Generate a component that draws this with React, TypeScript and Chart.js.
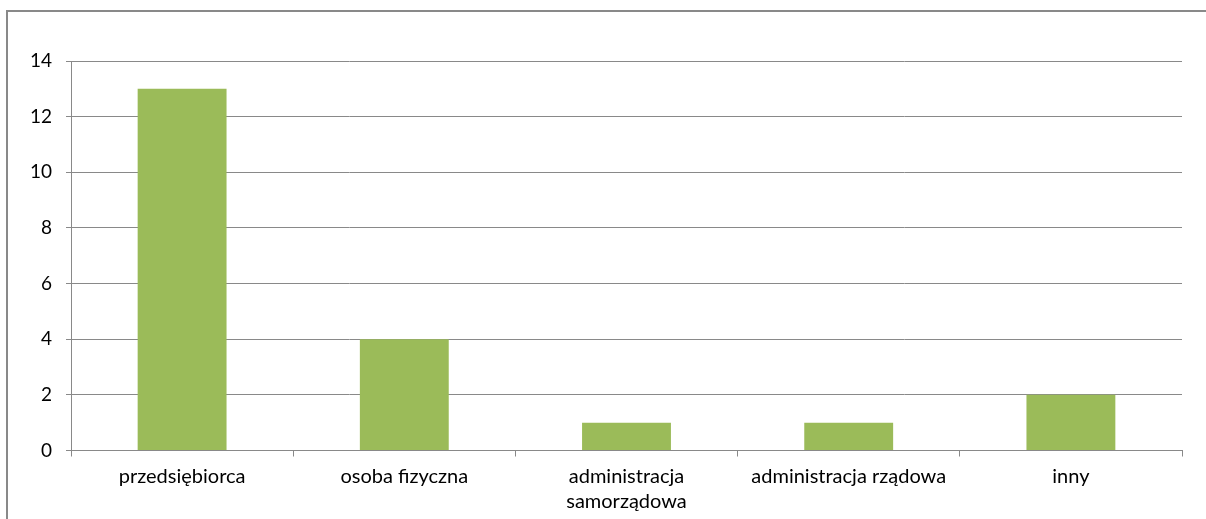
import React, { useEffect, useRef } from "react";
import { Chart, registerables } from "chart.js";

Chart.register(...registerables);

const categories: (string | string[])[] = [
  "przedsiębiorca",
  "osoba fizyczna",
  ["administracja", "samorządowa"],
  "administracja rządowa",
  "inny",
];
const values: number[] = [13, 4, 1, 1, 2];
const yTicks: number[] = [0, 2, 4, 6, 8, 10, 12, 14];

const FONT = "Lato";

const framePlugin = {
  id: "frame",
  beforeDraw(chart: any) {
    const ctx = chart.ctx;
    ctx.save();
    ctx.fillStyle = "#ffffff";
    ctx.fillRect(0, 0, chart.width, chart.height);
    ctx.strokeStyle = "#898989";
    ctx.lineWidth = 2;
    ctx.beginPath();
    ctx.moveTo(7, chart.height + 5);
    ctx.lineTo(7, 11);
    ctx.lineTo(chart.width + 5, 11);
    ctx.stroke();
    ctx.restore();
  },
};

export default function App() {
  const ref = useRef<HTMLCanvasElement | null>(null);
  useEffect(() => {
    document.body.style.margin = "0";
    document.body.style.overflow = "hidden";
    const chart = new Chart(ref.current!, {
      type: "bar",
      data: {
        labels: categories,
        datasets: [
          {
            data: values,
            backgroundColor: "#9BBB59",
            barPercentage: 0.4,
            categoryPercentage: 1,
          },
        ],
      },
      options: {
        animation: false,
        responsive: false,
        layout: { padding: { left: 0, top: 61, right: 24, bottom: 0 } },
        plugins: { legend: { display: false }, tooltip: { enabled: false } },
        scales: {
          x: {
            offset: true,
            grid: {
              offset: true,
              drawOnChartArea: false,
              color: "#898989",
              tickLength: 6,
            },
            border: { color: "#898989", width: 1 },
            ticks: {
              color: "#000000",
              font: { family: FONT, size: 20, lineHeight: 1.25 },
              padding: 8,
              maxRotation: 0,
              autoSkip: false,
            },
            afterFit(scale: any) {
              scale.height = 68.5;
            },
          },
          y: {
            min: 0,
            max: 14,
            afterBuildTicks(scale: any) {
              scale.ticks = yTicks.map((v) => ({ value: v }));
            },
            grid: { color: "#898989", tickLength: 5 },
            border: { color: "#898989", width: 1 },
            ticks: {
              color: "#000000",
              font: { family: FONT, size: 19 },
              padding: 14,
            },
            afterFit(scale: any) {
              scale.width = 71;
            },
          },
        },
      },
      plugins: [framePlugin],
    });
    return () => chart.destroy();
  }, []);
  return <canvas ref={ref} width={1206} height={519} style={{ display: "block" }} />;
}
